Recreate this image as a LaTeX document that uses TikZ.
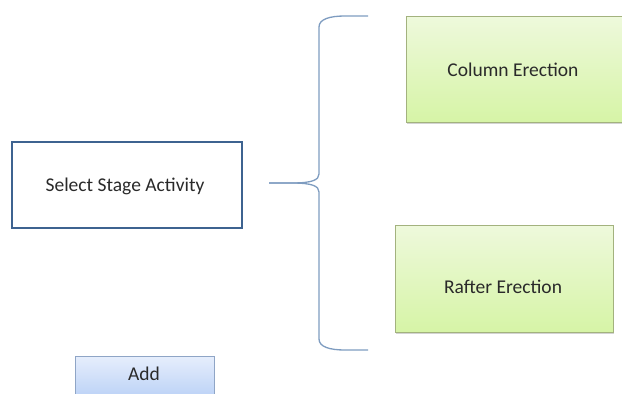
\documentclass[tikz,border=0pt]{standalone}
\usepackage{fontspec}
\setmainfont{Carlito}
\usepackage{xcolor}
\usepackage{tikz}
\usetikzlibrary{shadows}
\definecolor{selblue}{HTML}{3E6390}
\definecolor{bracecol}{HTML}{7E9CC0}
\definecolor{greenedge}{HTML}{A3B27E}
\definecolor{greentop}{HTML}{EEF9DC}
\definecolor{greenbot}{HTML}{D6F4A6}
\definecolor{addedge}{HTML}{8FA5C6}
\definecolor{addtop}{HTML}{E6EEFC}
\definecolor{addbot}{HTML}{B9D0F6}
\definecolor{txt}{HTML}{2A2A2A}

\begin{document}
\begin{tikzpicture}[x=1pt, y=-1pt, every node/.style={font=\fontsize{19.5}{22}\selectfont, text=txt, inner sep=0pt},
		selbox/.style={draw=selblue, line width=1.3pt, fill=white},
		stagebox/.style={draw=greenedge, line width=0.8pt, top color=greentop, bottom color=greenbot, drop shadow={shadow xshift=1pt, shadow yshift=-1.5pt, opacity=0.35}},
		addbtn/.style={draw=addedge, line width=0.8pt, top color=addtop, bottom color=addbot}]
		\useasboundingbox (0,0) rectangle (622,394);
		\path[selbox] (12,142) rectangle (242,228);
		\node(select) at (125,186){Select Stage Activity};
		\path[stagebox] (406,16) rectangle (630,122);
		\node(column) at (513,70){Column Erection};
		\path[stagebox] (395,225) rectangle (613,332);
		\node(rafter) at (503,287){Rafter Erection};
		\path[addbtn] (75,356) rectangle (214,400);
		\node(add) at (144,374){Add};
		% brace
		\coordinate(tip) at (269,183);
		\coordinate(upper) at (368,16);
		\coordinate(lower) at (368,350);
		\draw[bracecol, line width=1.3pt] (tip) -- (292,183) .. controls (312,183) and (319,180) .. (319,174) -- (319,27) .. controls (319,19) and (330,16) .. (345,16) -- (upper);
		\draw[bracecol, line width=1.3pt] (tip) -- (292,183) .. controls (312,183) and (319,186) .. (319,192) -- (319,339) .. controls (319,347) and (330,350) .. (345,350) -- (lower);
	\end{tikzpicture}
\end{document}
